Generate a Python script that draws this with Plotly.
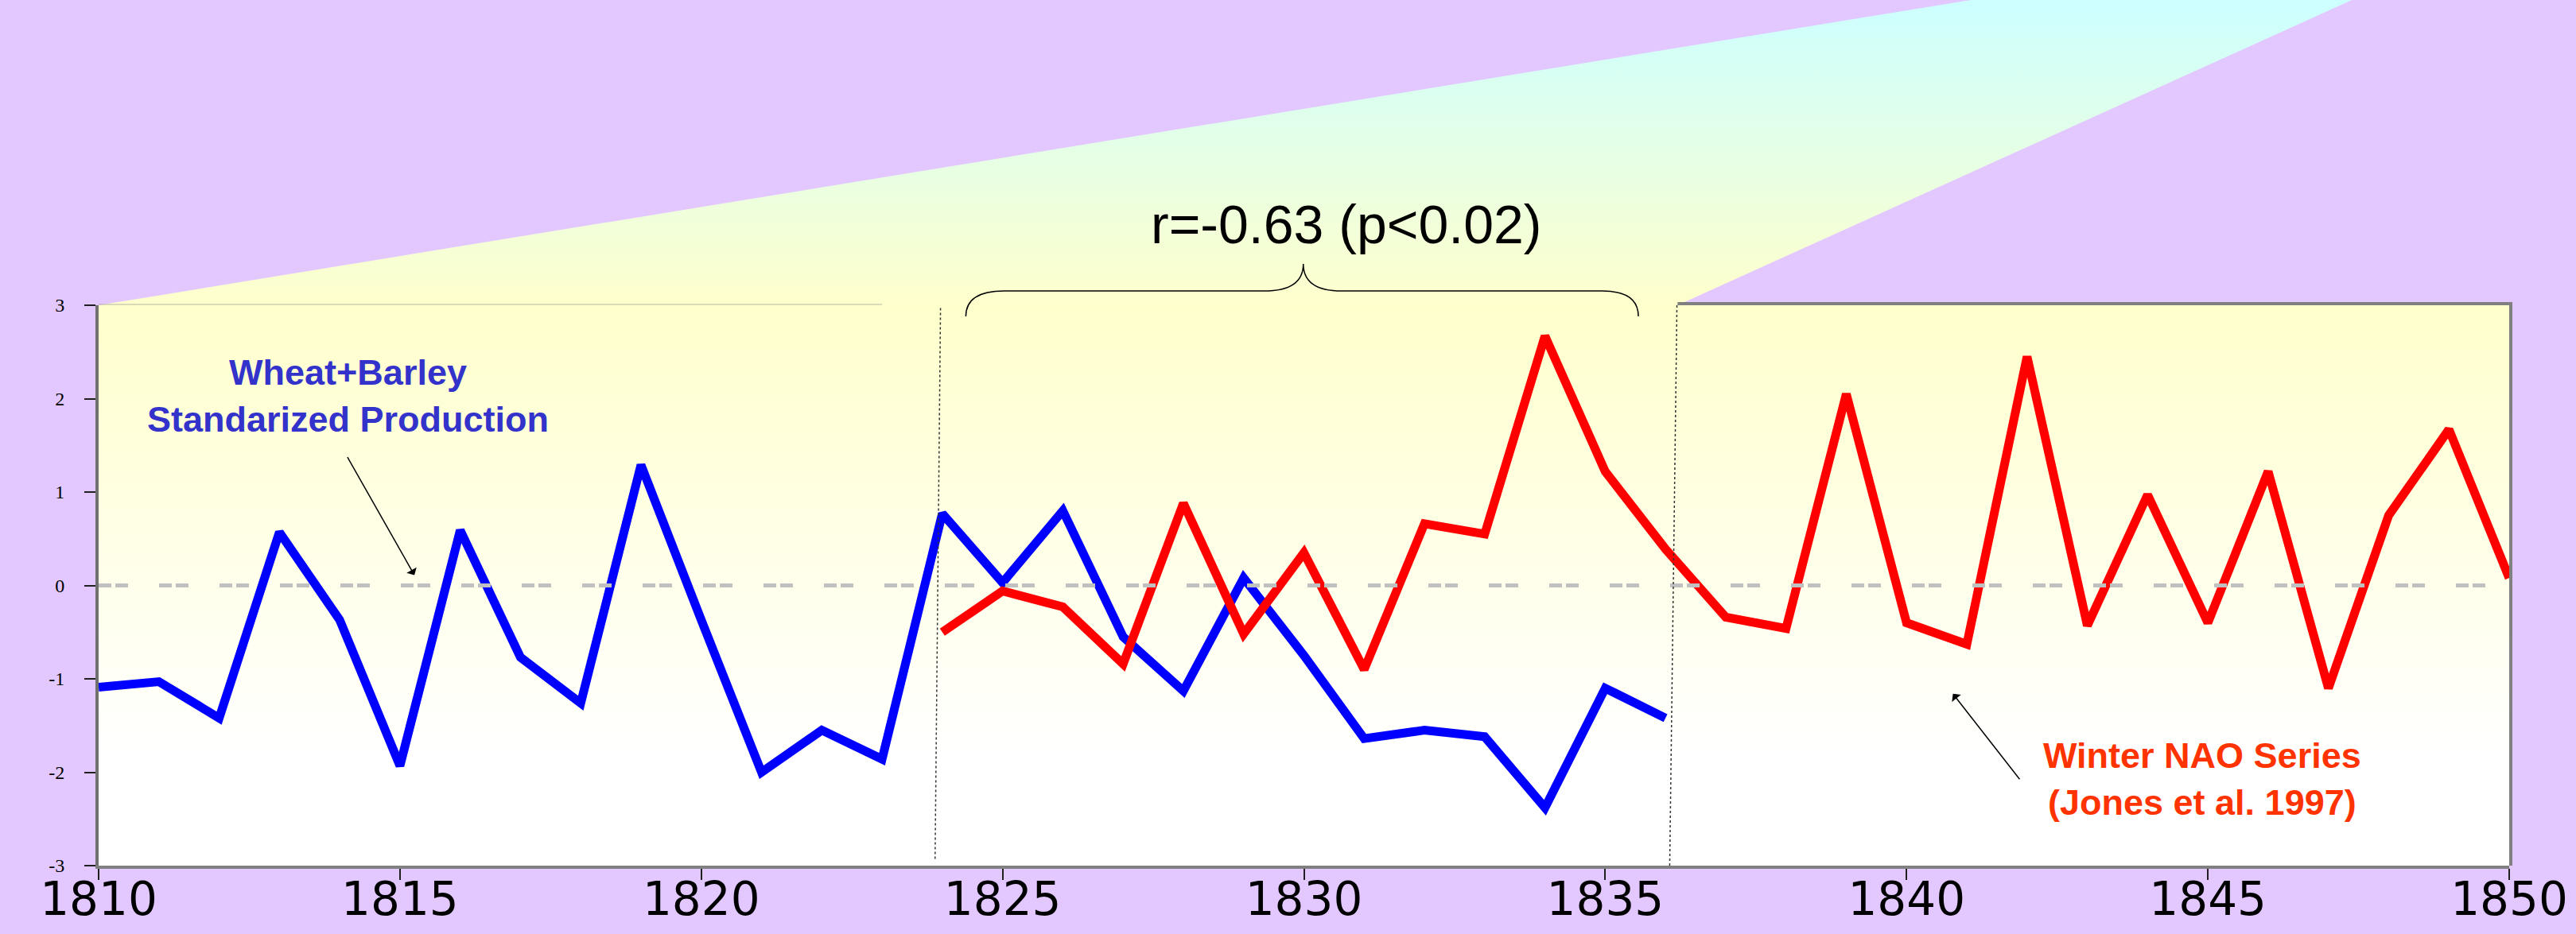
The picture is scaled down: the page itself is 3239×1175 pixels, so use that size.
import plotly.graph_objects as go

# ---------------- data ----------------
wheat_years = list(range(1810, 1837))
wheat_values = [-1.09, -1.03, -1.42, 0.57, -0.37, -1.93, 0.59, -0.77, -1.26, 1.29,
                -0.37, -2.00, -1.55, -1.86, 0.77, 0.03, 0.80, -0.55, -1.13, 0.08,
                -0.75, -1.64, -1.55, -1.62, -2.38, -1.10, -1.42]

nao_years = list(range(1824, 1851))
nao_values = [-0.50, -0.06, -0.23, -0.84, 0.88, -0.52, 0.35, -0.90, 0.66, 0.55,
              2.67, 1.22, 0.39, -0.34, -0.46, 2.05, -0.40, -0.63, 2.45, -0.43,
              0.97, -0.40, 1.22, -1.10, 0.75, 1.67, 0.08]

x_tick_vals = [1810, 1815, 1820, 1825, 1830, 1835, 1840, 1845, 1850]
x_tick_text = ["1810", "1815", "1820", "1825", "1830", "1835", "1840", "1845", "1850"]
y_tick_vals = [3, 2, 1, 0, -1, -2, -3]
y_tick_text = ["3", "2", "1", "0", "-1", "-2", "-3"]

# ---------------- layout geometry ----------------
W, H = 3239, 1175
X_MIN, X_MAX = 1810, 1850
Y_MIN, Y_MAX = -3, 3
X0P, X1P = 124 / W, 3155 / W
Y0P, Y1P = 86 / H, 791 / H


def fx(year):
    return X0P + (year - X_MIN) / (X_MAX - X_MIN) * (X1P - X0P)


def fy(v):
    return Y0P + (v - Y_MIN) / (Y_MAX - Y_MIN) * (Y1P - Y0P)


LAVENDER = "#E3C8FF"
BLUE = "#0000FF"
RED = "#FF0000"

fig = go.Figure()

# background spotlight (full-figure hidden subplot x/y)
spot_x = [fx(1841.07), fx(1847.39), fx(1836.2), fx(1810), fx(1841.07)]
spot_y = [1.0, 1.0, fy(3), fy(3), 1.0]
fig.add_trace(go.Scatter(
    x=spot_x, y=spot_y, xaxis="x", yaxis="y", mode="lines",
    line=dict(width=0), fill="toself",
    fillgradient=dict(type="vertical", colorscale=[[0, "#FFFFCC"], [1, "#CCFFFF"]]),
    hoverinfo="skip", showlegend=False))

# plot area gradient
fig.add_trace(go.Scatter(
    x=[X_MIN, X_MAX, X_MAX, X_MIN, X_MIN], y=[Y_MIN, Y_MIN, Y_MAX, Y_MAX, Y_MIN],
    xaxis="x2", yaxis="y2", mode="lines", line=dict(width=0), fill="toself",
    fillgradient=dict(type="vertical",
                      colorscale=[[0, "#FFFFFF"], [0.2, "#FFFFFF"], [1, "#FFFFCC"]]),
    hoverinfo="skip", showlegend=False))

# data series
fig.add_trace(go.Scatter(
    x=wheat_years, y=wheat_values, xaxis="x2", yaxis="y2", mode="lines",
    line=dict(color=BLUE, width=11), name="Wheat+Barley", showlegend=False))
fig.add_trace(go.Scatter(
    x=nao_years, y=nao_values, xaxis="x2", yaxis="y2", mode="lines",
    line=dict(color=RED, width=11), name="Winter NAO", showlegend=False))

# zero reference line
fig.add_trace(go.Scatter(
    x=[X_MIN, X_MAX], y=[0, 0], xaxis="x2", yaxis="y2", mode="lines",
    line=dict(color="#C0C0C0", width=5, dash="16px,5px,16px,39px"),
    hoverinfo="skip", showlegend=False))

shapes = []
# borders
shapes.append(dict(type="line", xref="paper", yref="paper",
                   x0=fx(1836.2), x1=fx(1850) + 2 / W, y0=fy(3) + 2 / H, y1=fy(3) + 2 / H,
                   line=dict(color="#808080", width=4)))
shapes.append(dict(type="line", xref="paper", yref="paper",
                   x0=fx(1850) + 2 / W, x1=fx(1850) + 2 / W, y0=fy(-3), y1=fy(3) + 4 / H,
                   line=dict(color="#808080", width=4)))
shapes.append(dict(type="line", xref="paper", yref="paper",
                   x0=fx(1810), x1=fx(1823), y0=fy(3) + 1 / H, y1=fy(3) + 1 / H,
                   line=dict(color="rgba(150,150,150,0.35)", width=2)))
# dotted vertical separators
shapes.append(dict(type="line", xref="paper", yref="paper",
                   x0=fx(1823.97), x1=fx(1823.88), y0=fy(2.97), y1=fy(-2.93),
                   line=dict(color="#333333", width=1.5, dash="dot")))
shapes.append(dict(type="line", xref="paper", yref="paper",
                   x0=fx(1836.19), x1=fx(1836.07), y0=fy(3.0), y1=fy(-3.0),
                   line=dict(color="#333333", width=1.5, dash="dot")))

# curly brace
def P(year, v):
    return f"{fx(year):.6f},{fy(v):.6f}"

brace = (f"M {P(1824.39, 2.88)} Q {P(1824.39, 3.153)} {P(1825.03, 3.153)} "
         f"L {P(1829.34, 3.153)} Q {P(1829.99, 3.153)} {P(1829.99, 3.443)} "
         f"Q {P(1829.99, 3.153)} {P(1830.63, 3.153)} "
         f"L {P(1834.95, 3.153)} Q {P(1835.55, 3.153)} {P(1835.55, 2.88)}")
shapes.append(dict(type="path", xref="paper", yref="paper", path=brace,
                   line=dict(color="black", width=1.5)))

annotations = [
    dict(xref="paper", yref="paper", x=fx(1830.7), y=fy(3.87), text="r=-0.63 (p<0.02)",
         showarrow=False, xanchor="center", yanchor="middle",
         font=dict(family="Liberation Sans, Arial", size=68, color="black")),
    dict(xref="paper", yref="paper", x=fx(1814.14), y=fy(2.03),
         text="<b>Wheat+Barley<br>Standarized Production</b>",
         showarrow=False, xanchor="center", yanchor="middle", align="center",
         font=dict(family="Liberation Sans, Arial", size=45, color="#3333CC")),
    dict(xref="paper", yref="paper", x=fx(1844.9), y=fy(-2.07),
         text="<b>Winter NAO Series<br>(Jones et al. 1997)</b>",
         showarrow=False, xanchor="center", yanchor="middle", align="center",
         font=dict(family="Liberation Sans, Arial", size=45, color="#FF3300")),
    dict(xref="paper", yref="paper", x=fx(1815.24), y=fy(0.11), text="",
         showarrow=True, ax=-85, ay=-150, arrowhead=1, arrowsize=1.6, arrowwidth=1.5,
         arrowcolor="black"),
    dict(xref="paper", yref="paper", x=fx(1840.77), y=fy(-1.16), text="",
         showarrow=True, ax=85, ay=109, arrowhead=1, arrowsize=1.6, arrowwidth=1.5,
         arrowcolor="black"),
]

fig.update_layout(
    width=W, height=H,
    margin=dict(l=0, r=0, t=0, b=0, autoexpand=False),
    paper_bgcolor=LAVENDER, plot_bgcolor="rgba(0,0,0,0)",
    showlegend=False,
    shapes=shapes, annotations=annotations,
    xaxis=dict(domain=[0, 1], range=[0, 1], visible=False, fixedrange=True,
               automargin=False),
    yaxis=dict(domain=[0, 1], range=[0, 1], visible=False, fixedrange=True,
               automargin=False),
    xaxis2=dict(domain=[X0P, X1P], anchor="y2", range=[X_MIN, X_MAX], automargin=False,
                tickmode="array", tickvals=x_tick_vals, ticktext=x_tick_text,
                ticks="outside", ticklen=14, tickwidth=1.5, tickcolor="#202020",
                showline=True, linecolor="#808080", linewidth=4,
                showgrid=False, zeroline=False, ticklabelstandoff=-26,
                ticklabeloverflow="allow",
                tickfont=dict(family="DejaVu Sans", size=58, color="black")),
    yaxis2=dict(domain=[Y0P, Y1P], anchor="x2", range=[Y_MIN, Y_MAX], automargin=False,
                tickmode="array", tickvals=y_tick_vals, ticktext=y_tick_text,
                ticks="outside", ticklen=14, tickwidth=1.5, tickcolor="#202020",
                showline=True, linecolor="#707070", linewidth=4,
                showgrid=False, zeroline=False, ticklabelstandoff=20,
                tickfont=dict(family="Liberation Serif, Times New Roman", size=24,
                              color="black")),
)

fig.write_html("out.html", config={"displayModeBar": False},
               post_script="document.body.style.margin='0';document.body.style.overflow='hidden';")
